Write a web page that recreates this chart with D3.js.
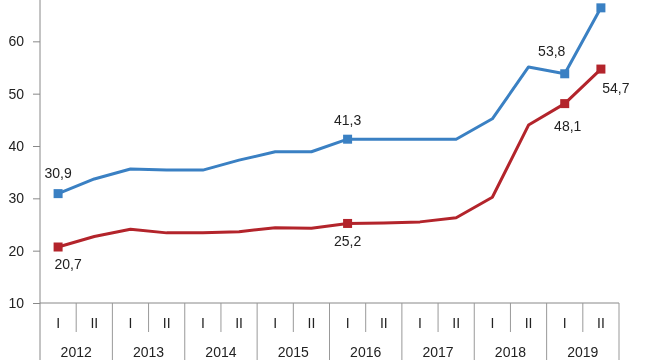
<!DOCTYPE html>
<html><head><meta charset="utf-8">
<script src="https://cdn.jsdelivr.net/npm/d3@7"></script>
<style>html,body{margin:0;padding:0;background:#fff;}svg{display:block;font-family:"Liberation Sans",Arial,sans-serif;}
text{-webkit-font-smoothing:antialiased;}
.txt{opacity:0.999;will-change:transform;}</style>
</head><body><svg id="c" width="650" height="360"></svg>
<script>
const years = ["2012","2013","2014","2015","2016","2017","2018","2019"];
const halves = ["I","II"];
const blueValues = [30.9,33.7,35.6,35.4,35.4,37.3,38.9,38.9,41.3,41.3,41.3,41.3,45.2,55.1,53.8,66.4];
const redValues  = [20.7,22.7,24.1,23.4,23.4,23.6,24.4,24.3,25.2,25.3,25.5,26.3,30.2,44.0,48.1,54.7];
const yTicks = [10,20,30,40,50,60];
const markedIdx = [0,8,14,15];
const blueLabels = {0:"30,9",8:"41,3",14:"53,8"};
const redLabels  = {0:"20,7",8:"25,2",14:"48,1",15:"54,7"};

const categories = [];
years.forEach(y => halves.forEach(h => categories.push({year:y, half:h, key:y+"-"+h})));

const svg = d3.select("#c");
const left = 40, right = 619, bottom = 303;
const x = d3.scaleBand().domain(categories.map(d=>d.key)).range([left,right]);
const xYear = d3.scaleBand().domain(years).range([left,right]);
const y = d3.scaleLinear().domain([10,70]).range([bottom,-11]);
const cx = i => x(categories[i].key) + x.bandwidth()/2;

// y axis
const yAxis = svg.append("g").attr("class","txt").attr("transform",`translate(${left},0)`)
  .call(d3.axisLeft(y).tickValues(yTicks).tickSize(7).tickPadding(9).tickFormat(d3.format("d")));
yAxis.select(".domain").remove();
yAxis.selectAll("line").attr("stroke","#888");
yAxis.selectAll("text").attr("font-size",14).attr("fill","#222").attr("font-family","Liberation Sans, Arial, sans-serif");
svg.append("line").attr("x1",left).attr("x2",left).attr("y1",0).attr("y2",360).attr("stroke","#888");
svg.append("line").attr("x1",left).attr("x2",right).attr("y1",bottom).attr("y2",bottom).attr("stroke","#888");

// category dividers
const g = svg.append("g").attr("class","txt");
categories.forEach((d,i)=>{
  if(d.half==="II"){
    const xx = x(d.key);
    g.append("line").attr("x1",xx).attr("x2",xx).attr("y1",bottom).attr("y2",332).attr("stroke","#999");
  }
});
years.forEach(yr=>{
  const xx = xYear(yr)+xYear.bandwidth();
  g.append("line").attr("x1",xx).attr("x2",xx).attr("y1",bottom).attr("y2",360).attr("stroke","#999");
});
g.selectAll("text.h").data(categories).join("text").attr("class","h")
  .attr("x",(d,i)=>cx(i)).attr("y",328).attr("text-anchor","middle")
  .attr("font-size",14).attr("fill","#222").text(d=>d.half);
g.selectAll("text.yr").data(years).join("text").attr("class","yr")
  .attr("x",d=>xYear(d)+xYear.bandwidth()/2).attr("y",357).attr("text-anchor","middle")
  .attr("font-size",14).attr("fill","#222").text(d=>d);

// lines
const line = d3.line().x((d,i)=>cx(i)).y(d=>y(d));
const series = [
  {vals:blueValues,color:"#3a80c3",labels:blueLabels,offs:{0:[0,-21],8:[0,-19],14:[-13,-23]}},
  {vals:redValues,color:"#b3242b",labels:redLabels,offs:{0:[10,17],8:[0,18],14:[3,22],15:[15,19]}}
];
const lab = svg.append("g").attr("class","txt");
series.forEach(s=>{
  svg.insert("path",".txt").datum(s.vals).attr("d",line).attr("fill","none")
    .attr("stroke",s.color).attr("stroke-width",3).attr("stroke-linejoin","round");
  svg.selectAll(null).data(markedIdx).join("rect")
    .attr("x",i=>cx(i)-4.5).attr("y",i=>y(s.vals[i])-4.5).attr("width",9).attr("height",9)
    .attr("fill",s.color);
  Object.keys(s.labels).forEach(k=>{
    const i=+k, o=s.offs[i];
    lab.append("text").attr("x",cx(i)+o[0]).attr("y",y(s.vals[i])+o[1]).attr("dy","0.35em")
      .attr("text-anchor","middle").attr("font-size",14).attr("fill","#222").text(s.labels[k]);
  });
});
</script></body></html>
